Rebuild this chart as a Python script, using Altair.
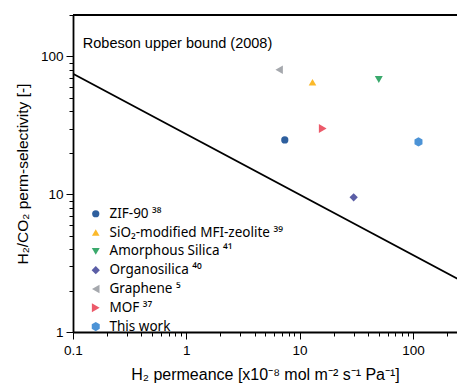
import altair as alt
import pandas as pd

materials = [" ZIF-90 ³⁸", " SiO₂-modified MFI-zeolite ³⁹", "Amorphous Silica ⁴¹",
             "Organosilica ⁴⁰", "Graphene ⁵", "MOF ³⁷", "This work"]
permeance = [7.4, 13.0, 50.0, 30.0, 6.6, 16.0, 112.0]
selectivity = [24.8, 65.0, 68.0, 9.5, 80.0, 30.0, 24.0]
colors = ["#2e5f9e", "#fbb92a", "#3aa96c", "#5b5ea6", "#a5a8ad", "#ec5a6a", "#4c93d6"]
hexagon = "M0,-1L0.866,-0.5L0.866,0.5L0,1L-0.866,0.5L-0.866,-0.5Z"
shapes = ["circle", "triangle-up", "triangle-down", "diamond", "triangle-left", "triangle-right", hexagon]
marker_sizes = [52, 85, 85, 60, 85, 85, 62]

bound_x = [0.1, 250.0]
bound_y = [75.0, 2.42]

x_ticks = [0.1, 0.2, 0.3, 0.4, 0.5, 0.6, 0.7, 0.8, 0.9,
           1, 2, 3, 4, 5, 6, 7, 8, 9,
           10, 20, 30, 40, 50, 60, 70, 80, 90, 100, 200]
y_ticks = [1, 2, 3, 4, 5, 6, 7, 8, 9, 10, 20, 30, 40, 50, 60, 70, 80, 90, 100, 200]

note_text = ["Robeson upper bound (2008)"]
note_x = [0.122]
note_y = [124.0]

points = pd.DataFrame({"material": materials, "permeance": permeance, "selectivity": selectivity})
bound = pd.DataFrame({"x": bound_x, "y": bound_y})
note = pd.DataFrame({"text": note_text, "x": note_x, "y": note_y})

W, H = 384, 317
FONT = "Liberation Sans"
LEGEND_FONT = "Noto Sans"

is_decade = "abs(log(datum.value)/LN10 - round(log(datum.value)/LN10)) < 1e-6"
label_expr = f"({is_decade}) ? format(datum.value, '~g') : ''"

xscale = alt.Scale(type="log", domain=[0.1, 245])
yscale = alt.Scale(type="log", domain=[1, 200])

xaxis = alt.Axis(values=x_ticks, labelExpr=label_expr, grid=False,
                 tickSize={"condition": {"test": is_decade, "value": 7}, "value": 4},
                 title="H₂ permeance [x10⁻⁸ mol m⁻² s⁻¹ Pa⁻¹]", titleFontSize=16,
                 titlePadding=10, labelPadding=4, labelFlush=False)
yaxis = alt.Axis(values=y_ticks, labelExpr=label_expr, grid=False,
                 tickSize={"condition": {"test": is_decade, "value": 7}, "value": 4},
                 title="H₂/CO₂  perm-selectivity [-]", titleFontSize=15.5,
                 titlePadding=10, labelPadding=3, labelFlush=False)

line = alt.Chart(bound).mark_line(color="black", strokeWidth=1.8, clip=True).encode(
    x=alt.X("x:Q", scale=xscale, axis=xaxis),
    y=alt.Y("y:Q", scale=yscale, axis=yaxis),
)

pts = alt.Chart(points).mark_point(filled=True, opacity=1).encode(
    x=alt.X("permeance:Q", scale=xscale),
    y=alt.Y("selectivity:Q", scale=yscale),
    color=alt.Color("material:N", scale=alt.Scale(domain=materials, range=colors),
                    sort=materials,
                    legend=alt.Legend(title=None, orient="none", legendX=16, legendY=192,
                                      labelFontSize=13.5, labelFont=LEGEND_FONT, labelColor="black",
                                      symbolSize=55, rowPadding=3.8, padding=0, labelLimit=0,
                                      symbolOpacity=1, labelOffset=7)),
    shape=alt.Shape("material:N", scale=alt.Scale(domain=materials, range=shapes),
                    sort=materials, legend=None),
    size=alt.Size("material:N", scale=alt.Scale(domain=materials, range=marker_sizes),
                  sort=materials, legend=None),
)

txt = alt.Chart(note).mark_text(align="left", baseline="middle", fontSize=14.5, font=FONT,
                                color="black").encode(
    x=alt.X("x:Q", scale=xscale),
    y=alt.Y("y:Q", scale=yscale),
    text="text:N",
)

top = alt.Chart(pd.DataFrame({"a": [0]})).mark_rule(color="black", strokeWidth=1.8).encode(
    x=alt.value(0), x2=alt.value(W), y=alt.value(0)
)

chart = alt.layer(line, pts, txt, top).properties(
    width=W, height=H,
    autosize=alt.AutoSizeParams(type="none"),
    padding={"left": 73, "top": 15, "right": 0, "bottom": 52},
    background="white",
).configure_view(stroke=None).configure_axis(
    domainColor="black", domainWidth=1.8, tickColor="black", tickWidth=1,
    labelFont=FONT, labelFontSize=13.5, labelColor="black",
    titleFont=FONT, titleColor="black", titleFontWeight="normal",
)

chart.save("out.html", embed_options={"renderer": "svg", "actions": False})
